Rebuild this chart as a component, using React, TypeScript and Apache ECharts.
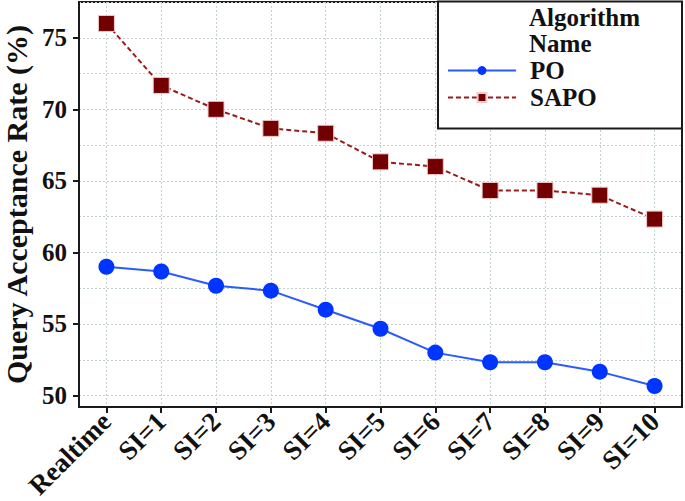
import React, { useEffect, useRef } from "react";
import * as echarts from "echarts";

const categories = ["Realtime", "SI=1", "SI=2", "SI=3", "SI=4", "SI=5", "SI=6", "SI=7", "SI=8", "SI=9", "SI=10"];
const poValues = [59, 58.67, 57.67, 57.33, 56, 54.67, 53, 52.33, 52.33, 51.67, 50.67];
const sapoValues = [76, 71.67, 70, 68.67, 68.33, 66.33, 66, 64.33, 64.33, 64, 62.33];
const yGridValues = [50, 52.5, 55, 57.5, 60, 62.5, 65, 67.5, 70, 72.5, 75, 77.5];
const yLabelValues = [50, 55, 60, 65, 70, 75];

const FONT = "'Liberation Serif', 'Times New Roman', serif";

export default function App() {
  const ref = useRef<HTMLDivElement>(null);
  useEffect(() => {
    if (!ref.current) return;
    const chart = echarts.init(ref.current, null, { renderer: "svg" });
    const gridLine = { show: true, lineStyle: { color: "#c3cfd1", type: [2, 2] as any, width: 1 } };
    chart.setOption({
      animation: false,
      backgroundColor: "#ffffff",
      grid: {
        left: 79, right: 3, top: 2, bottom: 94, show: true,
        borderColor: "#1a1a1a", borderWidth: 2, backgroundColor: "transparent",
        containLabel: false, outerBoundsMode: "none",
      } as any,
      xAxis: {
        type: "category",
        data: categories,
        boundaryGap: true,
        axisLine: { lineStyle: { color: "#1a1a1a", width: 2 } },
        axisTick: { show: true, alignWithLabel: true, length: 6, lineStyle: { color: "#1a1a1a", width: 2 } },
        axisLabel: { rotate: 45, margin: 10, interval: 0, color: "#111", fontFamily: FONT, fontWeight: "bold", fontSize: 27 },
        splitLine: { ...gridLine, alignWithLabel: true } as any,
      },
      yAxis: [
        {
          type: "value",
          min: 49.2,
          max: 77.5,
          name: "Query Acceptance Rate (%)",
          nameLocation: "middle",
          nameGap: 46,
          nameTextStyle: { color: "#111", fontFamily: FONT, fontWeight: "bold", fontSize: 30 },
          axisLine: { show: true, lineStyle: { color: "#1a1a1a", width: 2 } },
          axisTick: { show: false, customValues: yGridValues } as any,
          axisLabel: { customValues: yLabelValues, margin: 12, color: "#111", fontFamily: FONT, fontWeight: "bold", fontSize: 25 } as any,
          splitLine: gridLine,
        },
        {
          type: "value",
          position: "left",
          min: 49.2,
          max: 77.5,
          axisLine: { show: false },
          axisTick: { show: true, length: 6, customValues: yLabelValues, lineStyle: { color: "#1a1a1a", width: 2 } } as any,
          axisLabel: { show: false },
          splitLine: { show: false },
        },
      ],
      legend: {
        orient: "vertical",
        left: 447,
        top: 58,
        padding: 0,
        itemGap: 2,
        itemWidth: 68,
        itemHeight: 11,
        z: 10,
        textStyle: { color: "#111", fontFamily: FONT, fontWeight: "bold", fontSize: 25, padding: [0, 0, 0, 9] },
        data: ["PO", "SAPO"],
      },
      graphic: [
        {
          type: "rect",
          z: 8,
          shape: { x: 438, y: 1.5, width: 244, height: 127 },
          style: { fill: "#ffffff", stroke: "#1a1a1a", lineWidth: 2 },
        },
        {
          type: "text",
          z: 10,
          x: 529,
          y: 4,
          style: { text: "Algorithm\nName", fill: "#111", font: `bold 25px ${FONT}`, lineHeight: 26 },
        },
      ],
      series: [
        {
          name: "PO",
          type: "line",
          data: poValues,
          symbol: "circle",
          symbolSize: 16,
          itemStyle: { color: "#0035ff" },
          lineStyle: { color: "#2a5bff", width: 2 },
          z: 3,
        },
        {
          name: "SAPO",
          type: "line",
          data: sapoValues,
          symbol: "rect",
          symbolSize: 16,
          itemStyle: { color: "#730000", borderColor: "#f0c8c8", borderWidth: 1 },
          lineStyle: { color: "#9a1a1a", width: 2, type: [5, 3] as any },
          z: 3,
        },
      ],
    });
    return () => chart.dispose();
  }, []);
  return <div ref={ref} style={{ position: "fixed", left: 0, top: 0, width: 685, height: 501 }} />;
}
